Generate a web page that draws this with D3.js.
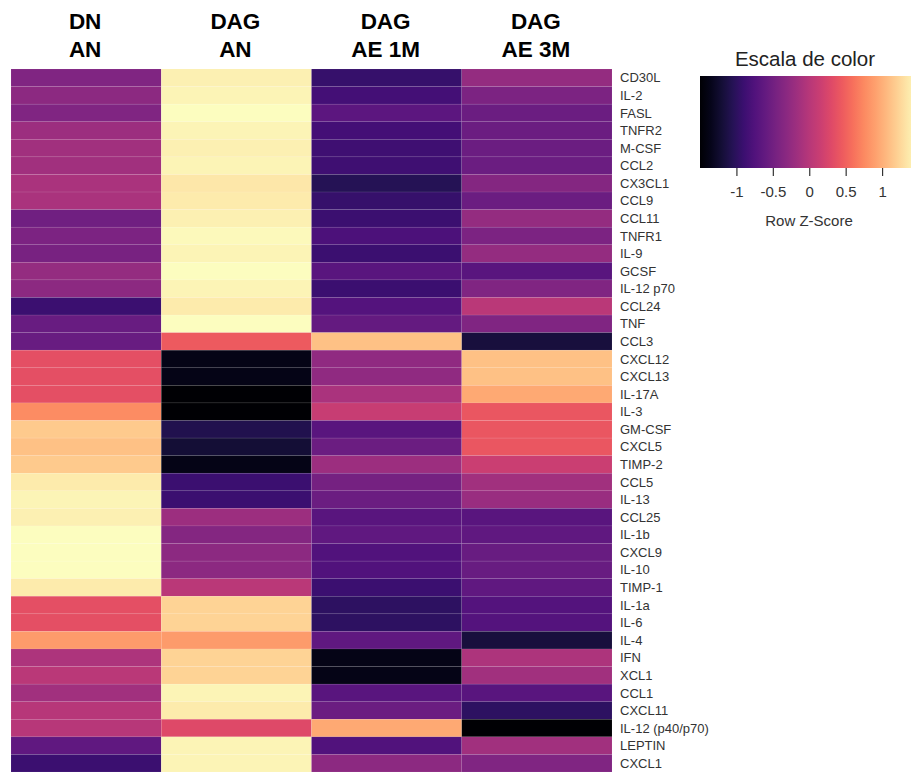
<!DOCTYPE html>
<html>
<head>
<meta charset="utf-8">
<script src="https://cdn.jsdelivr.net/npm/d3@7"></script>
<style>
  body { margin: 0; background: #fff; }
  svg { display: block; font-family: Arial, "Liberation Sans", sans-serif; }
</style>
</head>
<body>
<svg id="chart" width="911" height="775"></svg>
<script>
const width = 911;
const height = 775;

// column headers (two lines each)
const colTop = ["DN", "DAG", "DAG", "DAG"];
const colBottom = ["AN", "AN", "AE 1M", "AE 3M"];
const groups = ["DN AN", "DAG AN", "DAG AE 1M", "DAG AE 3M"];

const cytokines = ["CD30L", "IL-2", "FASL", "TNFR2", "M-CSF", "CCL2", "CX3CL1", "CCL9", "CCL11", "TNFR1",
    "IL-9", "GCSF", "IL-12 p70", "CCL24", "TNF", "CCL3", "CXCL12", "CXCL13", "IL-17A", "IL-3",
    "GM-CSF", "CXCL5", "TIMP-2", "CCL5", "IL-13", "CCL25", "IL-1b", "CXCL9", "IL-10", "TIMP-1",
    "IL-1a", "IL-6", "IL-4", "IFN", "XCL1", "CCL1", "CXCL11", "IL-12 (p40/p70)", "LEPTIN", "CXCL1"];

// row z-scores, one array per group
const dnAN = [-0.39, -0.30, -0.39, -0.18, -0.15, -0.15, -0.09, -0.09, -0.51, -0.42,
    -0.45, -0.24, -0.30, -0.90, -0.57, -0.57, 0.36, 0.36, 0.36, 0.78,
    1.17, 1.11, 1.17, 1.38, 1.44, 1.41, 1.50, 1.50, 1.50, 1.38,
    0.36, 0.36, 0.87, -0.06, 0.03, -0.15, 0.00, 0.00, -0.63, -0.90];
const dagAN = [1.41, 1.44, 1.50, 1.44, 1.41, 1.44, 1.35, 1.38, 1.41, 1.47,
    1.44, 1.50, 1.44, 1.38, 1.50, 0.45, -1.38, -1.38, -1.50, -1.50,
    -1.08, -1.20, -1.38, -0.90, -0.90, -0.18, -0.36, -0.30, -0.30, 0.03,
    1.23, 1.23, 0.87, 1.23, 1.23, 1.44, 1.38, 0.30, 1.44, 1.44];
const dagAE1M = [-0.93, -0.84, -0.66, -0.84, -0.87, -0.87, -1.05, -0.93, -0.90, -0.78,
    -0.90, -0.69, -0.90, -0.72, -0.60, 1.11, -0.27, -0.27, -0.09, 0.12,
    -0.69, -0.54, -0.18, -0.48, -0.54, -0.69, -0.63, -0.75, -0.75, -0.90,
    -0.99, -0.99, -0.63, -1.38, -1.38, -0.69, -0.54, 0.96, -0.75, -0.30];
const dagAE3M = [-0.24, -0.42, -0.54, -0.54, -0.54, -0.54, -0.36, -0.54, -0.24, -0.42,
    -0.24, -0.69, -0.39, 0.03, -0.39, -1.17, 1.11, 1.11, 0.96, 0.42,
    0.42, 0.42, 0.15, -0.15, -0.21, -0.69, -0.63, -0.57, -0.57, -0.63,
    -0.72, -0.72, -1.17, -0.06, -0.15, -0.69, -0.99, -1.50, -0.15, -0.39];

const legendTicks = [-1, -0.5, 0, 0.5, 1];

const series = [dnAN, dagAN, dagAE1M, dagAE3M];
const cells = [];
groups.forEach((g, i) => {
    cytokines.forEach((c, j) => {
        cells.push({ group: g, cytokine: c, value: series[i][j] });
    });
});

const svg = d3.select("#chart");

const x = d3.scaleBand()
    .domain(groups)
    .range([11, 612]);

const y = d3.scaleBand()
    .domain(cytokines)
    .range([69, 772]);

const color = d3.scaleSequential(d3.interpolateMagma)
    .domain([-1.5, 1.5]);

// heatmap cells
svg.append("g")
    .selectAll("rect")
    .data(cells)
    .join("rect")
    .attr("x", d => x(d.group))
    .attr("y", d => y(d.cytokine))
    .attr("width", x.bandwidth())
    .attr("height", y.bandwidth())
    .attr("fill", d => color(d.value))
    .attr("stroke", "rgba(255,255,255,0.12)")
    .attr("stroke-width", 0.6);

// column headers
const head = svg.append("g")
    .attr("font-weight", "bold")
    .attr("font-size", 22.5)
    .attr("fill", "#000")
    .attr("text-anchor", "middle");

head.selectAll("text.top")
    .data(groups)
    .join("text")
    .attr("class", "top")
    .attr("x", d => x(d) + x.bandwidth() / 2 - 1)
    .attr("y", 29)
    .text((d, i) => colTop[i]);

head.selectAll("text.bottom")
    .data(groups)
    .join("text")
    .attr("class", "bottom")
    .attr("x", d => x(d) + x.bandwidth() / 2 - 1)
    .attr("y", 56.5)
    .text((d, i) => colBottom[i]);

// row labels
svg.append("g")
    .attr("font-size", 13)
    .attr("fill", "#333")
    .selectAll("text")
    .data(cytokines)
    .join("text")
    .attr("x", 620)
    .attr("y", d => y(d) + y.bandwidth() / 2 + 4.6)
    .text(d => d);

// colour key
const defs = svg.append("defs");
const grad = defs.append("linearGradient")
    .attr("id", "magma-key");
d3.range(0, 1.0001, 0.05).forEach(t => {
    grad.append("stop")
        .attr("offset", `${t * 100}%`)
        .attr("stop-color", d3.interpolateMagma(t));
});

const kx = d3.scaleLinear()
    .domain([-1.5, 1.5])
    .range([700, 918.5]);

svg.append("rect")
    .attr("x", kx(-1.5))
    .attr("y", 76)
    .attr("width", kx(1.5) - kx(-1.5))
    .attr("height", 92)
    .attr("fill", "url(#magma-key)");

const keyAxis = svg.append("g")
    .attr("transform", "translate(0,168)")
    .call(d3.axisBottom(kx)
        .tickValues(legendTicks)
        .tickSize(8)
        .tickPadding(10)
        .tickFormat(d => String(d)));

keyAxis.select(".domain").remove();
keyAxis.selectAll("line").attr("stroke", "#333").attr("stroke-width", 1.2);
keyAxis.selectAll("text")
    .attr("font-size", 15)
    .attr("font-family", "Arial, 'Liberation Sans', sans-serif")
    .attr("fill", "#333");

svg.append("text")
    .attr("x", 805)
    .attr("y", 65.5)
    .attr("text-anchor", "middle")
    .attr("font-size", 20.5)
    .attr("fill", "#222")
    .text("Escala de color");

svg.append("text")
    .attr("x", 809)
    .attr("y", 225.5)
    .attr("text-anchor", "middle")
    .attr("font-size", 15)
    .attr("fill", "#333")
    .text("Row Z-Score");
</script>
</body>
</html>
